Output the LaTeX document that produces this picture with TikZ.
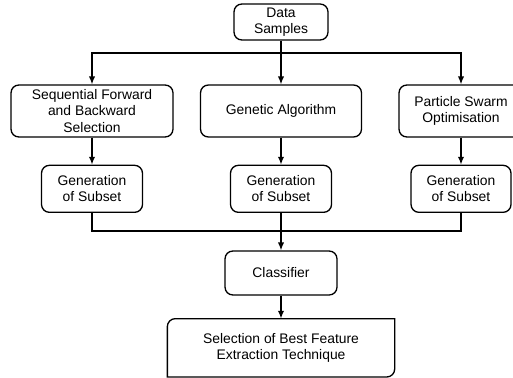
\documentclass[tikz,border=0pt]{standalone}
\usepackage{fontspec}
\setmainfont{Liberation Sans}
\usetikzlibrary{positioning,arrows.meta}

\begin{document}
\begin{tikzpicture}[
  boxstyle/.style={
        draw,
        rounded corners=4.5pt,
        line width=0.75pt,
        align=center,
        inner sep=1pt,
        font=\fontsize{7.9}{9.2}\selectfont
  },
  arrowstyle/.style={
        line width=0.75pt,
        -{Latex[length=4.5pt,width=3.6pt]}
  }
]

    \useasboundingbox (0,0) rectangle (10.26,-7.54);

    \node[boxstyle, minimum width=1.88cm, minimum height=0.72cm] (data) at (5.62,-0.44) {Data\\Samples};

    \node[boxstyle, minimum width=3.24cm, minimum height=1.04cm] (sfbs) at (1.84,-2.22) {Sequential Forward\\and Backward\\Selection};
    \node[boxstyle, minimum width=3.22cm, minimum height=1.04cm] (ga) at (5.62,-2.22) {Genetic Algorithm};
    \node[boxstyle, minimum width=2.48cm, minimum height=1.04cm] (pso) at (9.22,-2.22) {Particle Swarm\\Optimisation};

    \node[boxstyle, minimum width=2.02cm, minimum height=0.94cm, below=0.54cm of sfbs] (gen1) {Generation\\of Subset};
    \node[boxstyle, minimum width=2.02cm, minimum height=0.94cm, below=0.54cm of ga] (gen2) {Generation\\of Subset};
    \node[boxstyle, minimum width=2.00cm, minimum height=0.94cm, below=0.54cm of pso] (gen3) {Generation\\of Subset};

    \node[boxstyle, minimum width=2.24cm, minimum height=0.88cm] (clf) at (5.62,-5.46) {Classifier};
    \node[boxstyle, draw=none, minimum width=4.52cm, minimum height=1.14cm, below=0.46cm of clf] (best) {Selection of Best Feature\\Extraction Technique};

    % only two corners of the last box are rounded
    \draw[line width=0.75pt] (best.north east) -- ([xshift=4.5pt]best.north west)
        arc[start angle=90, end angle=180, radius=4.5pt] -- (best.south west)
        -- ([xshift=-4.5pt]best.south east)
        arc[start angle=-90, end angle=0, radius=4.5pt] -- cycle;

    \coordinate (split) at (5.62,-1.06);
    \coordinate (merge) at (5.62,-4.62);

    \draw[line width=0.75pt] (data) -- (split);
    \draw[arrowstyle] (split) -| (sfbs);
    \draw[arrowstyle] (split) -- (ga);
    \draw[arrowstyle] (split) -| (pso);

    \draw[arrowstyle] (sfbs) -- (gen1);
    \draw[arrowstyle] (ga) -- (gen2);
    \draw[arrowstyle] (pso) -- (gen3);

    \draw[line width=0.75pt] (gen1) |- (merge) -| (gen3);
    \draw[arrowstyle] (gen2) -- (clf);
    \draw[arrowstyle] (clf) -- (best);
\end{tikzpicture}
\end{document}
